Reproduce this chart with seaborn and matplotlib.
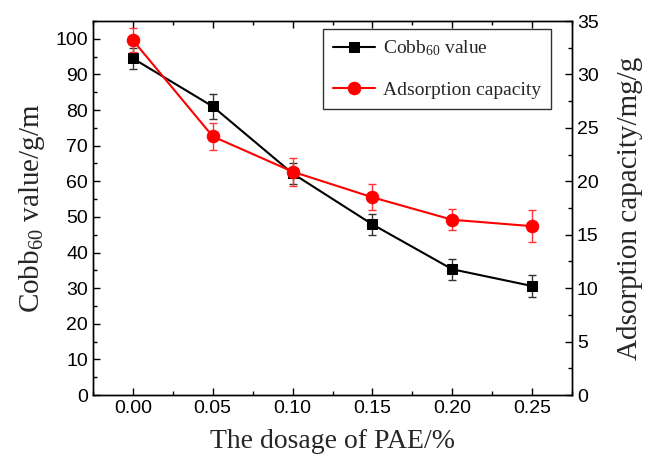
import numpy as np
import pandas as pd
import matplotlib
matplotlib.use("Agg")
import matplotlib.pyplot as plt
from matplotlib.ticker import MultipleLocator
import seaborn as sns

dosage = [0.00, 0.05, 0.10, 0.15, 0.20, 0.25]
cobb = [94.5, 81.0, 62.2, 47.9, 35.3, 30.6]
cobb_err = [3.0, 3.4, 3.0, 3.0, 3.0, 3.2]
adsorption = [33.2, 24.2, 20.9, 18.5, 16.4, 15.8]
ads_err = [1.1, 1.3, 1.3, 1.2, 1.0, 1.5]

sns.set_theme(style="ticks")
plt.rcParams["font.family"] = ["Liberation Sans", "DejaVu Sans"]
plt.rcParams["mathtext.fontset"] = "custom"
plt.rcParams["mathtext.rm"] = "Liberation Serif"
plt.rcParams["mathtext.it"] = "Liberation Serif:italic"

df = pd.DataFrame({"dosage": dosage, "cobb": cobb, "ads": adsorption})

fig = plt.figure(figsize=(6.45, 4.59), dpi=100)
ax = fig.add_axes([93/645, 1-395/459, (572-93)/645, (395-21)/459])
ax2 = ax.twinx()

serif = ["Liberation Serif", "DejaVu Serif"]

ax.errorbar(dosage, cobb, yerr=cobb_err, fmt="none", ecolor="#333333", elinewidth=1, capsize=3, capthick=1, zorder=2)
sns.lineplot(data=df, x="dosage", y="cobb", ax=ax, color="black", marker="s", markersize=7.5,
             markeredgecolor="black", linewidth=1.5, label="Cobb$_{60}$ value", legend=False, zorder=3)
ax2.errorbar(dosage, adsorption, yerr=ads_err, fmt="none", ecolor="#ff3333", elinewidth=1, capsize=3, capthick=1, zorder=2)
sns.lineplot(data=df, x="dosage", y="ads", ax=ax2, color="red", marker="o", markersize=9,
             markeredgecolor="red", linewidth=1.5, label="Adsorption capacity", legend=False, zorder=3)

ax.set_xlim(-0.025, 0.275)
ax.set_ylim(0, 105)
ax2.set_ylim(0, 35)

ax.xaxis.set_major_locator(MultipleLocator(0.05))
ax.xaxis.set_minor_locator(MultipleLocator(0.025))
ax.yaxis.set_major_locator(MultipleLocator(10))
ax.yaxis.set_minor_locator(MultipleLocator(5))
ax2.yaxis.set_major_locator(MultipleLocator(5))
ax2.yaxis.set_minor_locator(MultipleLocator(2.5))
ax.set_xticks(dosage)
ax.set_xticklabels([f"{v:.2f}" for v in dosage])

ax.tick_params(axis="both", which="both", direction="in", labelsize=14, colors="black")
ax.tick_params(axis="x", which="both", top=True)
ax.tick_params(which="major", length=5, width=1)
ax.tick_params(which="minor", length=3, width=1)
ax2.tick_params(axis="y", which="both", direction="in", labelsize=14, colors="black")
ax2.tick_params(which="major", length=5, width=1)
ax2.tick_params(which="minor", length=3, width=1)

for a in (ax, ax2):
    for s in a.spines.values():
        s.set_visible(True)
        s.set_color("black")
        s.set_linewidth(1)

ax.set_xlabel("The dosage of PAE/%", fontsize=20, family=serif, labelpad=9)
ax.set_ylabel("Cobb$\\mathregular{_{60}}$ value/g/m", fontsize=21, family=serif, labelpad=6)
ax2.set_ylabel("Adsorption capacity/mg/g", fontsize=21, family=serif, labelpad=13)

h1, l1 = ax.get_legend_handles_labels()
h2, l2 = ax2.get_legend_handles_labels()
leg = ax.legend(h1 + h2, l1 + l2, loc="upper right", bbox_to_anchor=(0.956, 0.979),
                frameon=True, fancybox=False, edgecolor="black", prop={"family": serif, "size": 14},
                handlelength=2.2, handletextpad=0.4, borderpad=0.5, labelspacing=1.2, borderaxespad=0)
leg.get_frame().set_linewidth(1)
leg.set_zorder(10)

fig.savefig("out.png", dpi=100, facecolor="white")
